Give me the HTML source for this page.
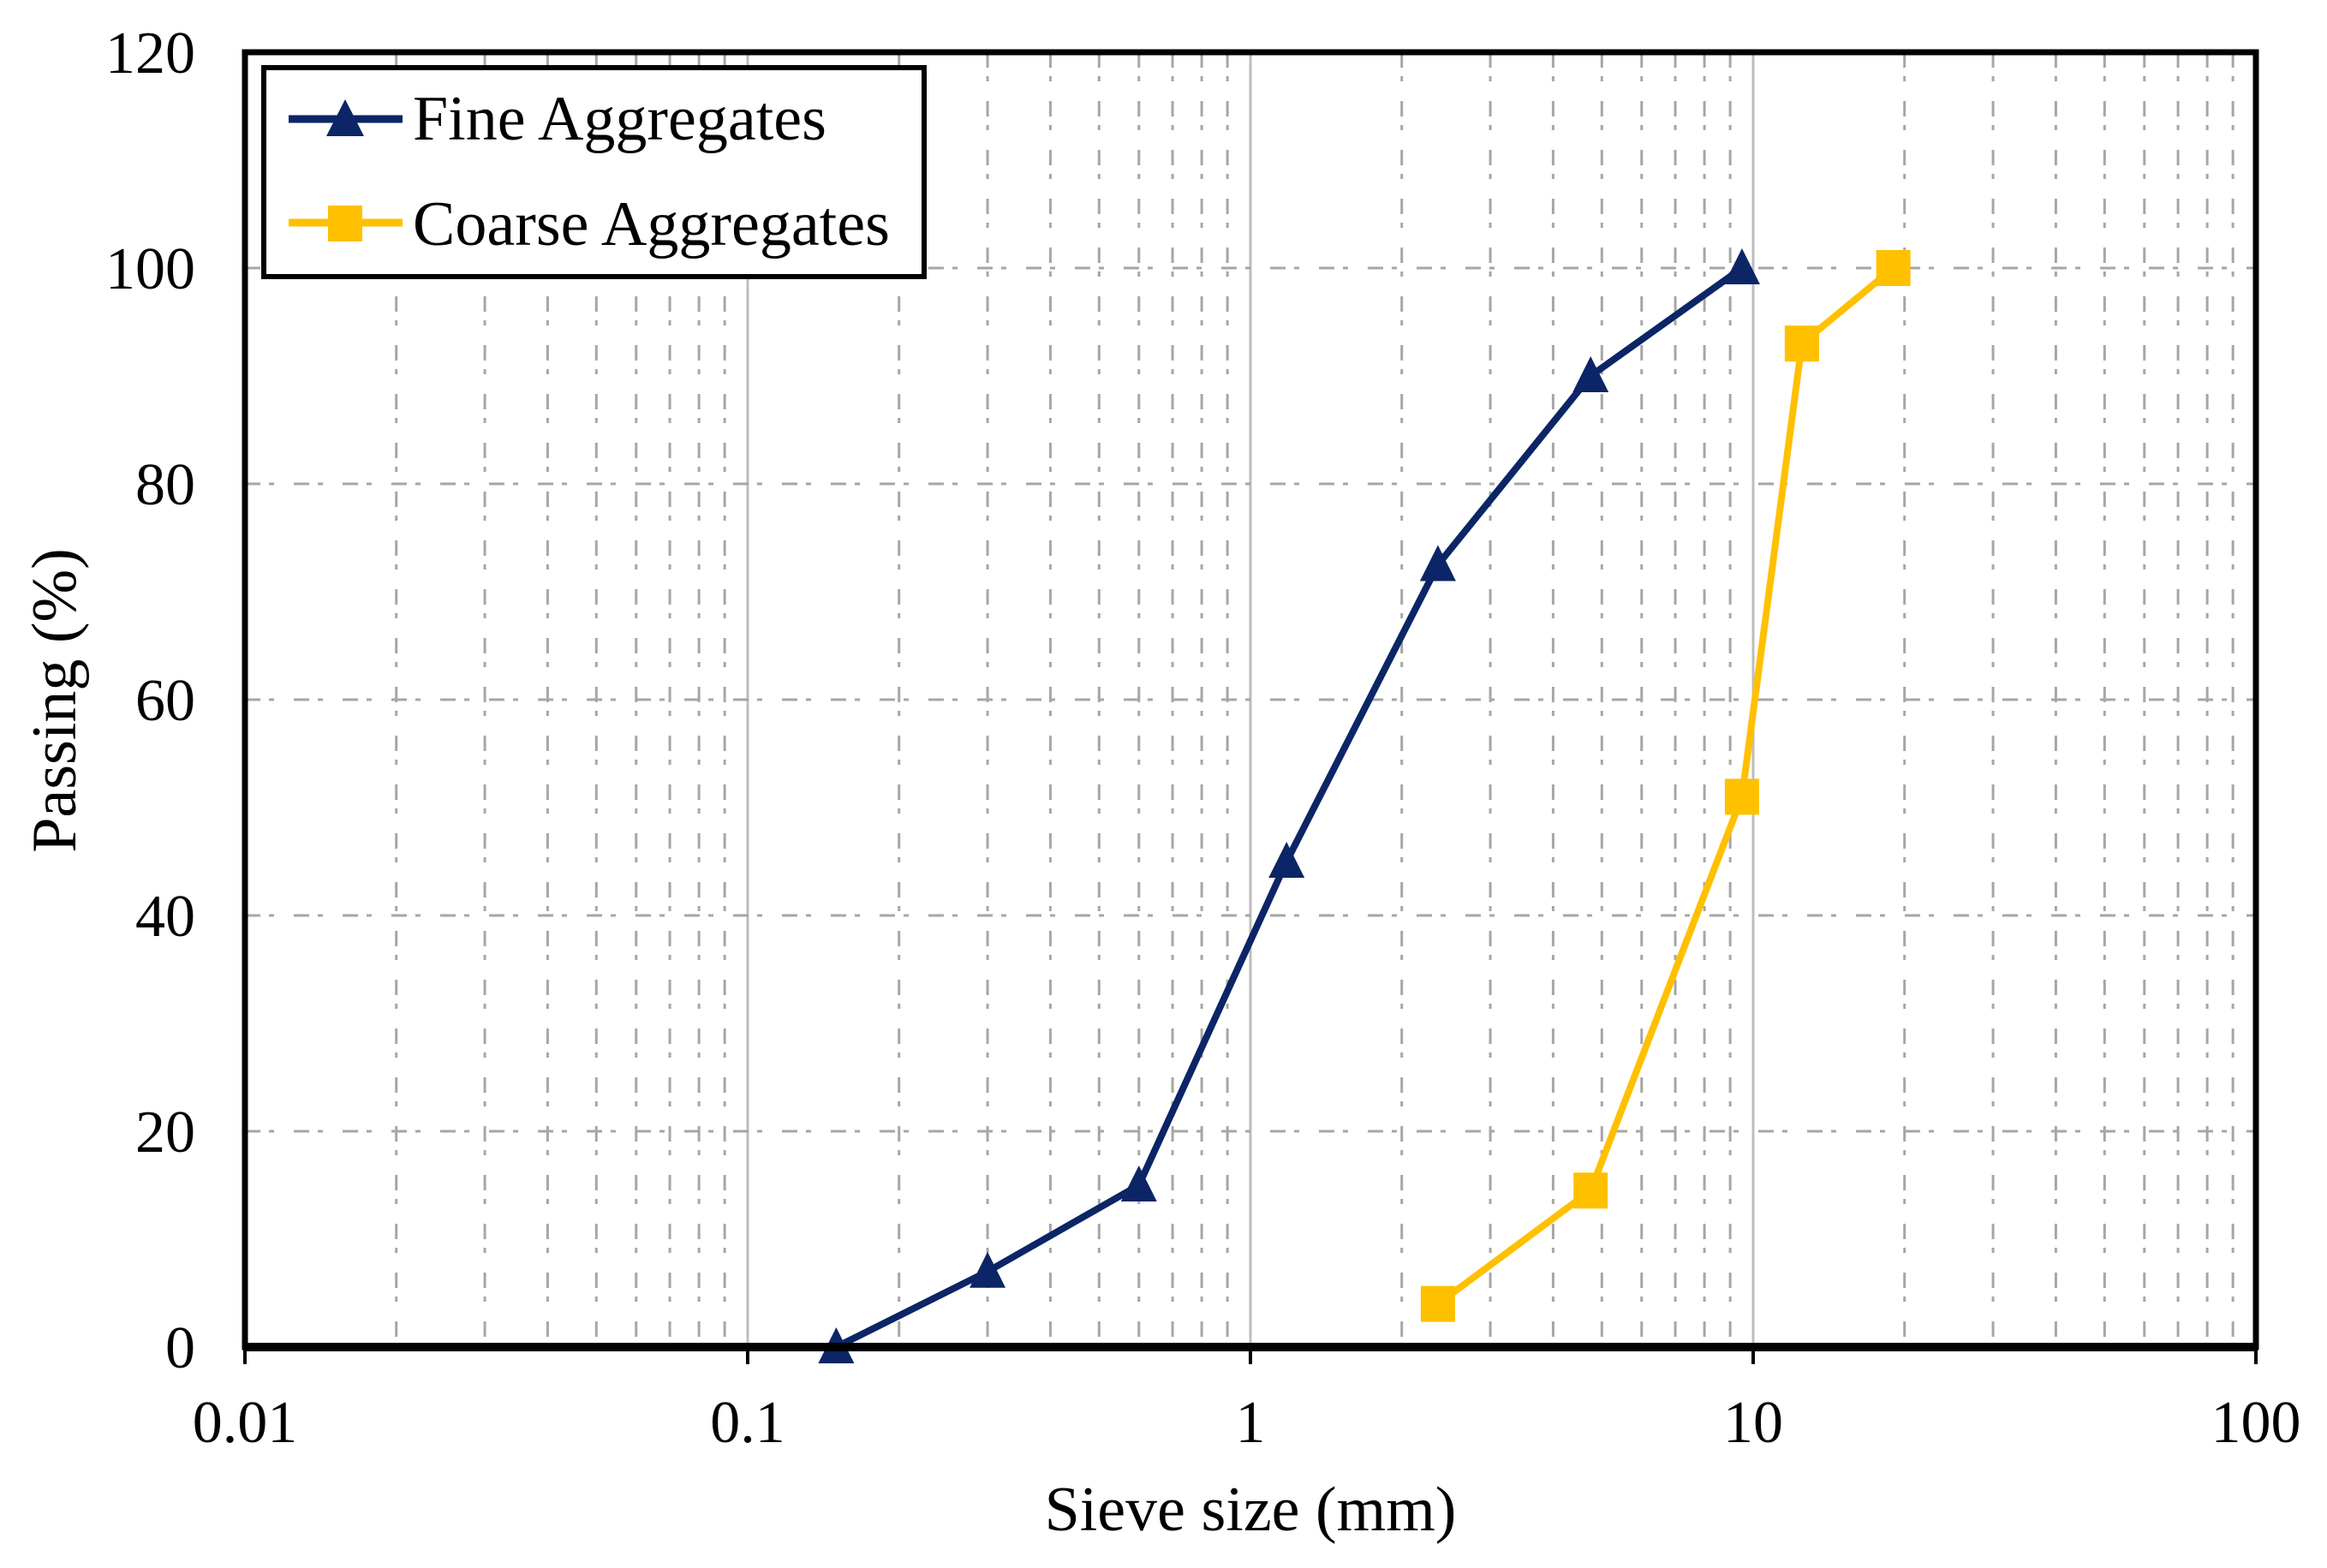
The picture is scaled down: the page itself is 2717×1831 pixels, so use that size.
<!DOCTYPE html>
<html><head><meta charset="utf-8"><style>
html,body{margin:0;padding:0;background:#fff;}
svg{display:block;font-family:"Liberation Serif",serif;}
</style></head><body>
<svg id="chart" width="2717" height="1831" viewBox="0 0 2717 1831">
<g id="grid"></g>
<g id="series"></g>
<g id="axes"></g>
<text x="1460" y="1787" font-size="74" text-anchor="middle">Sieve size (mm)</text>
<text transform="translate(88,818) rotate(-90)" font-size="74" text-anchor="middle">Passing (%)</text>
<g>
<rect x="308" y="79" width="771" height="244" fill="#fff" stroke="#000" stroke-width="6"/>
<g>
<line x1="337" y1="139" x2="470" y2="139" stroke="#0b2566" stroke-width="9"/>
<polygon points="403,116 425,159 381,159" fill="#0b2566"/>
<text x="482" y="163" font-size="74">Fine Aggregates</text>
</g>
<g>
<line x1="337" y1="260" x2="470" y2="260" stroke="#ffc000" stroke-width="9"/>
<rect x="383" y="240" width="40" height="42" fill="#ffc000"/>
<text x="482" y="286" font-size="74">Coarse Aggregates</text>
</g>
</g>
</svg>
<script>
const xTicks=[0.01,0.1,1,10,100];
const xTickLabels=["0.01","0.1","1","10","100"];
const yTicks=[0,20,40,60,80,100,120];
const fineX=[0.15,0.3,0.6,1.18,2.36,4.75,9.5];
const fineY=[0,7,15,45,72.5,90,100];
const coarseX=[2.36,4.75,9.5,12.5,19];
const coarseY=[4,14.5,51,93,100];

const L=286,R=2634,T=61,B=1573;
const xs=v=>L+(Math.log10(v)+2)/4*(R-L);
const ys=v=>B-v/120*(B-T);
const NS="http://www.w3.org/2000/svg";
function mk(tag,attrs,parent){const e=document.createElementNS(NS,tag);for(const k in attrs)e.setAttribute(k,attrs[k]);parent.appendChild(e);return e;}
const grid=document.getElementById('grid'),axes=document.getElementById('axes'),series=document.getElementById('series');
const dash="18 10 6 23";
for(let d=-2;d<2;d++){for(let m=2;m<=9;m++){const x=xs(m*Math.pow(10,d));
const g=mk('line',{x1:x,x2:x,y1:T,y2:B,stroke:'#a6a6a6','stroke-width':3,'stroke-dasharray':dash},grid);

}}
xTicks.forEach((v,i)=>{const x=xs(v);
if(i>0&&i<xTicks.length-1){const g=mk('line',{x1:x,x2:x,y1:T,y2:B,stroke:'#bdbdbd','stroke-width':3},grid);

}
const t=mk('line',{x1:x,x2:x,y1:B,y2:B+20,stroke:'#000','stroke-width':4},axes);


const lb=mk('text',{x:x,y:1684,'font-size':70,'text-anchor':'middle'},axes);lb.textContent=xTickLabels[i];

});
yTicks.forEach(v=>{const y=ys(v);
if(v>0&&v<120){const g=mk('line',{x1:L,x2:R,y1:y,y2:y,stroke:'#a6a6a6','stroke-width':3,'stroke-dasharray':dash},grid);

}
const lb=mk('text',{x:228,y:y+24,'font-size':70,'text-anchor':'end'},axes);lb.textContent=v;

});
const fr=mk('rect',{x:L,y:T,width:R-L,height:B-T,fill:'none',stroke:'#000','stroke-width':7},axes);


const xa=mk('line',{x1:L,x2:R,y1:B,y2:B,stroke:'#000','stroke-width':10},axes);


function drawSeries(X,Y,color,shape,name){
const pts=X.map((x,i)=>xs(x)+','+ys(Y[i])).join(' ');
const pl=mk('polyline',{points:pts,fill:'none',stroke:color,'stroke-width':8,'stroke-linejoin':'round'},series);


X.forEach((x,i)=>{const cx=xs(x),cy=ys(Y[i]);let m;
if(shape==='tri')m=mk('polygon',{points:`${cx},${cy-23} ${cx+21},${cy+19} ${cx-21},${cy+19}`,fill:color},series);
else m=mk('rect',{x:cx-20,y:cy-21,width:40,height:42,fill:color},series);

});}
drawSeries(fineX,fineY,'#0b2566','tri','fine');
drawSeries(coarseX,coarseY,'#ffc000','sq','coarse');
</script>
</body></html>
